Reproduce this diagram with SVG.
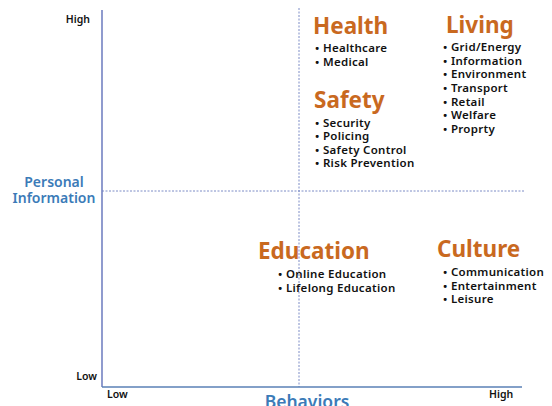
<svg xmlns="http://www.w3.org/2000/svg" width="552" height="406" viewBox="0 0 552 406">
  <style>
    .tick { font-family: "Noto Sans", "DejaVu Sans", sans-serif; font-size: 10.5px; font-weight: 600; fill: #111; }
    .axis-title { font-family: "Noto Sans", "DejaVu Sans", sans-serif; font-weight: 600; fill: #3b7bb8; }
    .head { font-family: "Noto Sans", "DejaVu Sans", sans-serif; font-size: 22.5px; font-weight: 700; fill: #c9691f; }
    .item { font-family: "Noto Sans", "DejaVu Sans", sans-serif; font-size: 11.5px; font-weight: 600; letter-spacing: 0.3px; fill: #111; }
    .axis { stroke: #7482c2; stroke-width: 1.6; fill: none; }
    .axis-x { stroke: #5a80b6; stroke-width: 1.6; fill: none; }
    .divider { stroke: #7d8cc6; stroke-width: 1; stroke-dasharray: 2 1.5; fill: none; }
  </style>
  <rect width="552" height="406" fill="#ffffff"/>

  <g id="connectors">
    <line class="divider" x1="299" y1="8" x2="299" y2="387"/>
    <line class="divider" x1="102" y1="191" x2="525" y2="191"/>
    <line class="axis" x1="102" y1="10" x2="102" y2="387"/>
    <line class="axis-x" x1="102" y1="387" x2="522" y2="387"/>
  </g>

  <g id="axis-labels">
    <text class="tick" x="90" y="23" text-anchor="end">High</text>
    <text class="tick" x="97" y="380" text-anchor="end">Low</text>
    <text class="tick" x="107" y="398">Low</text>
    <text class="tick" x="489" y="398">High</text>
    <text class="axis-title" x="54" y="187" font-size="14" text-anchor="middle">Personal</text>
    <text class="axis-title" x="54" y="203" font-size="14" text-anchor="middle">Information</text>
    <text class="axis-title" x="307" y="408" font-size="17.5" text-anchor="middle">Behaviors</text>
  </g>

  <g id="health">
    <text class="head" x="313" y="34">Health</text>
    <text class="item" x="315" y="52">• Healthcare</text>
    <text class="item" x="315" y="66">• Medical</text>
  </g>

  <g id="living">
    <text class="head" x="446" y="33">Living</text>
    <text class="item" x="443" y="51">• Grid/Energy</text>
    <text class="item" x="443" y="65">• Information</text>
    <text class="item" x="443" y="78">• Environment</text>
    <text class="item" x="443" y="92">• Transport</text>
    <text class="item" x="443" y="106">• Retail</text>
    <text class="item" x="443" y="119">• Welfare</text>
    <text class="item" x="443" y="133">• Proprty</text>
  </g>

  <g id="safety">
    <text class="head" x="314" y="108">Safety</text>
    <text class="item" x="315" y="127">• Security</text>
    <text class="item" x="315" y="140">• Policing</text>
    <text class="item" x="315" y="154">• Safety Control</text>
    <text class="item" x="315" y="167">• Risk Prevention</text>
  </g>

  <g id="education">
    <text class="head" x="258" y="259">Education</text>
    <text class="item" x="278" y="278">• Online Education</text>
    <text class="item" x="278" y="292">• Lifelong Education</text>
  </g>

  <g id="culture">
    <text class="head" x="437" y="257">Culture</text>
    <text class="item" x="443" y="276">• Communication</text>
    <text class="item" x="443" y="290">• Entertainment</text>
    <text class="item" x="443" y="303">• Leisure</text>
  </g>
</svg>
